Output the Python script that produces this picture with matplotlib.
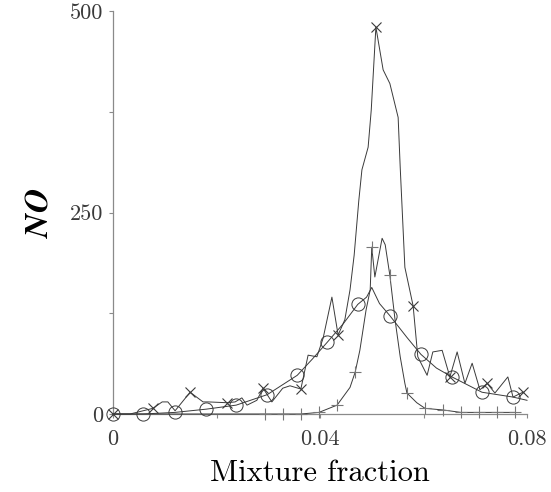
import matplotlib
matplotlib.use("Agg")
import matplotlib.pyplot as plt

# --- data ---
x_cross = [0, 0.0033, 0.0077, 0.0095, 0.0106, 0.0120, 0.0149, 0.0174, 0.0184, 0.0220,
           0.0236, 0.0249, 0.0259, 0.0278, 0.0290, 0.0307, 0.0328, 0.0342, 0.0363, 0.0377,
           0.0394, 0.0406, 0.0423, 0.0435, 0.0448, 0.0458, 0.0466, 0.0475, 0.0481, 0.0493,
           0.0499, 0.0508, 0.0522, 0.0535, 0.0551, 0.0555, 0.0564, 0.0580, 0.0589, 0.0607,
           0.0618, 0.0636, 0.0651, 0.0665, 0.0680, 0.0694, 0.0709, 0.0723, 0.0738, 0.0763,
           0.0773, 0.0792]
y_cross = [0, 0, 7, 15, 15, 4, 27, 15, 15, 14,
           15, 20, 11, 17, 32, 15, 32, 35, 31, 73,
           71, 94, 145, 98, 117, 154, 197, 265, 303, 331,
           377, 480, 427, 410, 368, 306, 182, 134, 71, 48,
           77, 79, 46, 77, 38, 63, 30, 38, 26, 46,
           21, 27]
cross_marks = [0, 2, 6, 9, 14, 18, 23, 31, 37, 42, 47, 51]

x_circ = [0, 0.0058, 0.0120, 0.0180, 0.0238, 0.0298, 0.0356, 0.0385, 0.0414, 0.0445,
          0.0473, 0.0490, 0.0500, 0.0515, 0.0535, 0.0568, 0.0595, 0.0625, 0.0655, 0.0713,
          0.0773, 0.0800]
y_circ = [0, 0, 2, 6, 11, 24, 48, 68, 89, 112,
          136, 145, 157, 137, 122, 95, 74, 57, 46, 27,
          21, 17]
circ_marks = [0, 1, 2, 3, 4, 5, 6, 8, 10, 14, 16, 18, 19, 20]

x_plus = [0, 0.0294, 0.0328, 0.0363, 0.0398, 0.0433, 0.0458, 0.0468, 0.0477, 0.0489,
          0.0497, 0.0500, 0.0506, 0.0520, 0.0526, 0.0535, 0.0545, 0.0555, 0.0564, 0.0568,
          0.0587, 0.0603, 0.0638, 0.0672, 0.0707, 0.0742, 0.0777]
y_plus = [0, 0, 0, 0, 2, 11, 33, 52, 79, 129,
          154, 207, 170, 218, 210, 172, 117, 71, 38, 26,
          14, 7, 5, 2, 2, 2, 2]
plus_marks = [1, 2, 3, 4, 5, 7, 11, 15, 19, 21, 22, 23, 24, 25, 26]

x_ticks = [0, 0.04, 0.08]
x_ticklabels = ["0", "0.04", "0.08"]
y_ticks = [0, 250, 500]
y_ticklabels = ["0", "250", "500"]

plt.rcParams['mathtext.fontset'] = 'cm'
plt.rcParams['font.family'] = ['cmr10', 'DejaVu Serif']
plt.rcParams['axes.formatter.use_mathtext'] = True

fig = plt.figure(figsize=(5.51, 4.92), dpi=100)
ax = fig.add_axes([113/551, 1 - 414/492, (527-113)/551, (414-11)/492])

lc = '#3a3a3a'
ax.plot(x_cross, y_cross, color=lc, lw=0.7, marker='x', markevery=cross_marks,
        markersize=7, markeredgewidth=0.8, markeredgecolor=lc, clip_on=False)
ax.plot(x_circ, y_circ, color=lc, lw=0.7, marker='o', markevery=circ_marks,
        markersize=9.5, markerfacecolor='none', markeredgewidth=0.7, markeredgecolor=lc,
        clip_on=False)
ax.plot(x_plus, y_plus, color=lc, lw=0.7, marker='+', markevery=plus_marks,
        markersize=9, markeredgewidth=0.8, markeredgecolor='#777777', clip_on=False)

ax.set_xlim(0, 0.08)
ax.set_ylim(0, 500)
for s in ['top', 'right']:
    ax.spines[s].set_visible(False)
for s in ['left', 'bottom']:
    ax.spines[s].set_color('#8a8a8a')
    ax.spines[s].set_linewidth(0.9)
    ax.spines[s].set_zorder(0.5)

ax.set_xticks(x_ticks)
ax.set_xticklabels(x_ticklabels)
ax.set_xticks([0.02, 0.06], minor=True)
ax.set_yticks(y_ticks)
ax.set_yticklabels(y_ticklabels)
ax.set_yticks([125, 375], minor=True)
ax.tick_params(which='both', direction='out', length=3, width=0.8, color='#8a8a8a',
               labelsize=16, labelcolor='#3a3a3a', pad=4)
ax.tick_params(axis='x', which='major', pad=8)

ax.set_xlabel("Mixture fraction", fontsize=22, family=['cmr10', 'DejaVu Serif'], labelpad=8)
ax.set_ylabel(r"$\boldsymbol{NO}$", fontsize=24, labelpad=12)

fig.savefig("out.png", dpi=100)
